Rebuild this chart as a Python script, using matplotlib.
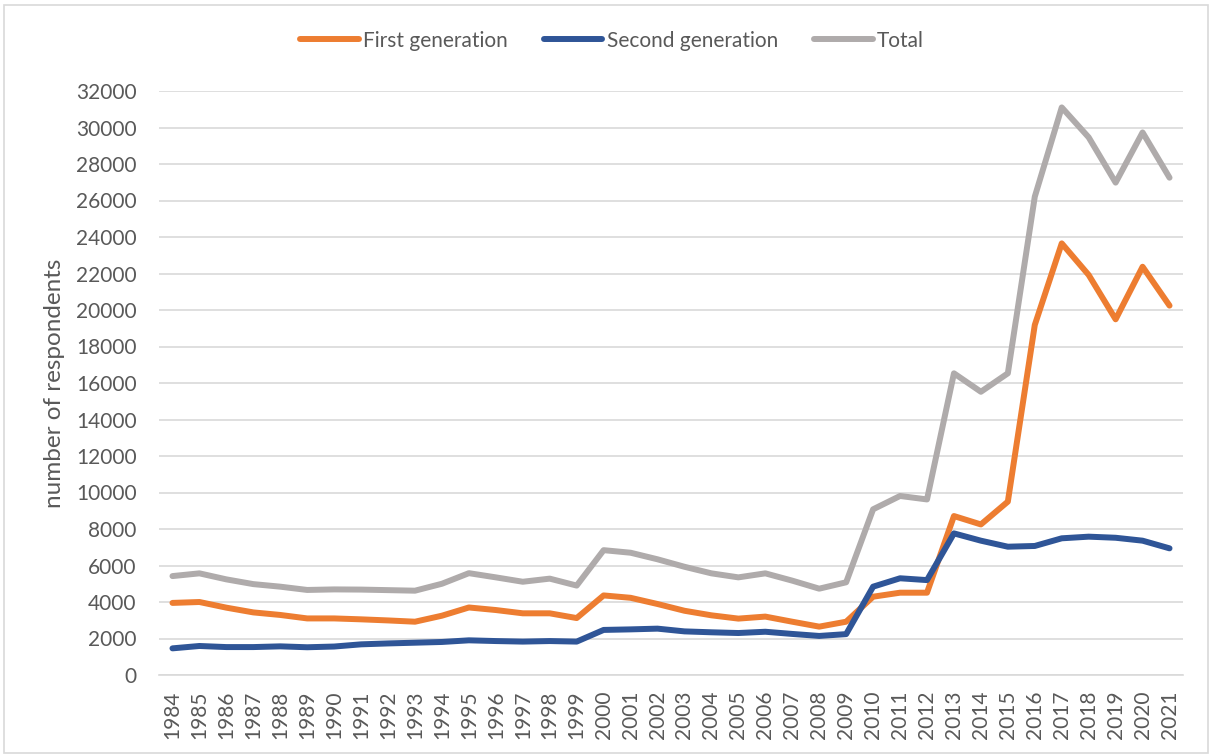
import numpy as np
import matplotlib
matplotlib.use("Agg")
import matplotlib.pyplot as plt

plt.rcParams['font.family'] = ['Lato', 'DejaVu Sans']

years = list(range(1984, 2022))

first_gen = [3950, 4000, 3690, 3430, 3290, 3100, 3100, 3050, 2990, 2920,
             3250, 3700, 3560, 3380, 3380, 3120, 4360, 4230, 3890, 3520,
             3270, 3090, 3200, 2920, 2650, 2920, 4290, 4510, 4510, 8710,
             8250, 9500, 19180, 23650, 21920, 19490, 22370, 20240]

second_gen = [1460, 1590, 1530, 1530, 1570, 1520, 1560, 1680, 1730, 1770,
              1810, 1900, 1860, 1830, 1860, 1830, 2470, 2500, 2540, 2390,
              2340, 2300, 2370, 2250, 2140, 2240, 4840, 5300, 5200, 7760,
              7360, 7030, 7070, 7490, 7580, 7520, 7360, 6940]

total = [5420, 5570, 5240, 4980, 4840, 4660, 4690, 4680, 4650, 4620,
         5000, 5580, 5350, 5110, 5280, 4900, 6840, 6700, 6340, 5930,
         5570, 5350, 5570, 5170, 4730, 5080, 9080, 9810, 9620, 16530,
         15520, 16530, 26210, 31100, 29460, 26980, 29730, 27250]

fig = plt.figure(figsize=(12.12, 7.55), dpi=100)
# light frame round the whole chart
fig.patches.append(plt.Rectangle((0.003, 0.003), 0.994, 0.99, transform=fig.transFigure,
                                 fill=False, edgecolor='#D9D9D9', linewidth=1.2))

ax = fig.add_axes([159 / 1212, 80 / 755, (1183 - 159) / 1212, (675 - 91) / 755])

x = np.arange(len(years))
ax.plot(x, first_gen, color='#ED7D31', lw=4.3, label='First generation', solid_capstyle='round')
ax.plot(x, second_gen, color='#2F5597', lw=4.3, label='Second generation', solid_capstyle='round')
ax.plot(x, total, color='#AFABAB', lw=4.3, label='Total', solid_capstyle='round')

ax.set_xlim(-0.5, len(years) - 0.5)
ax.set_ylim(0, 32000)
ax.set_yticks(np.arange(0, 32001, 2000))
ax.set_yticklabels([str(v) for v in range(0, 32001, 2000)], fontsize=15, color='#595959')
ax.set_xticks(x)
ax.set_xticklabels([str(y) for y in years], rotation=90, fontsize=15, color='#595959')
ax.tick_params(axis='y', length=0, pad=16)
ax.tick_params(axis='x', length=0, pad=11)

ax.grid(axis='y', color='#D9D9D9', lw=1.2)
ax.set_axisbelow(True)
for side in ['top', 'right', 'left']:
    ax.spines[side].set_visible(False)
ax.spines['bottom'].set_color('#D9D9D9')
ax.spines['bottom'].set_linewidth(1.2)

ax.set_ylabel('number of respondents', fontsize=17.5, color='#595959', labelpad=8)

fig.legend(loc='center', bbox_to_anchor=(0.505, 0.946), ncol=3, frameon=False,
           fontsize=15, handlelength=2.8, columnspacing=1.75, handletextpad=0.2,
           labelcolor='#595959')

fig.savefig('out.png', dpi=100)
